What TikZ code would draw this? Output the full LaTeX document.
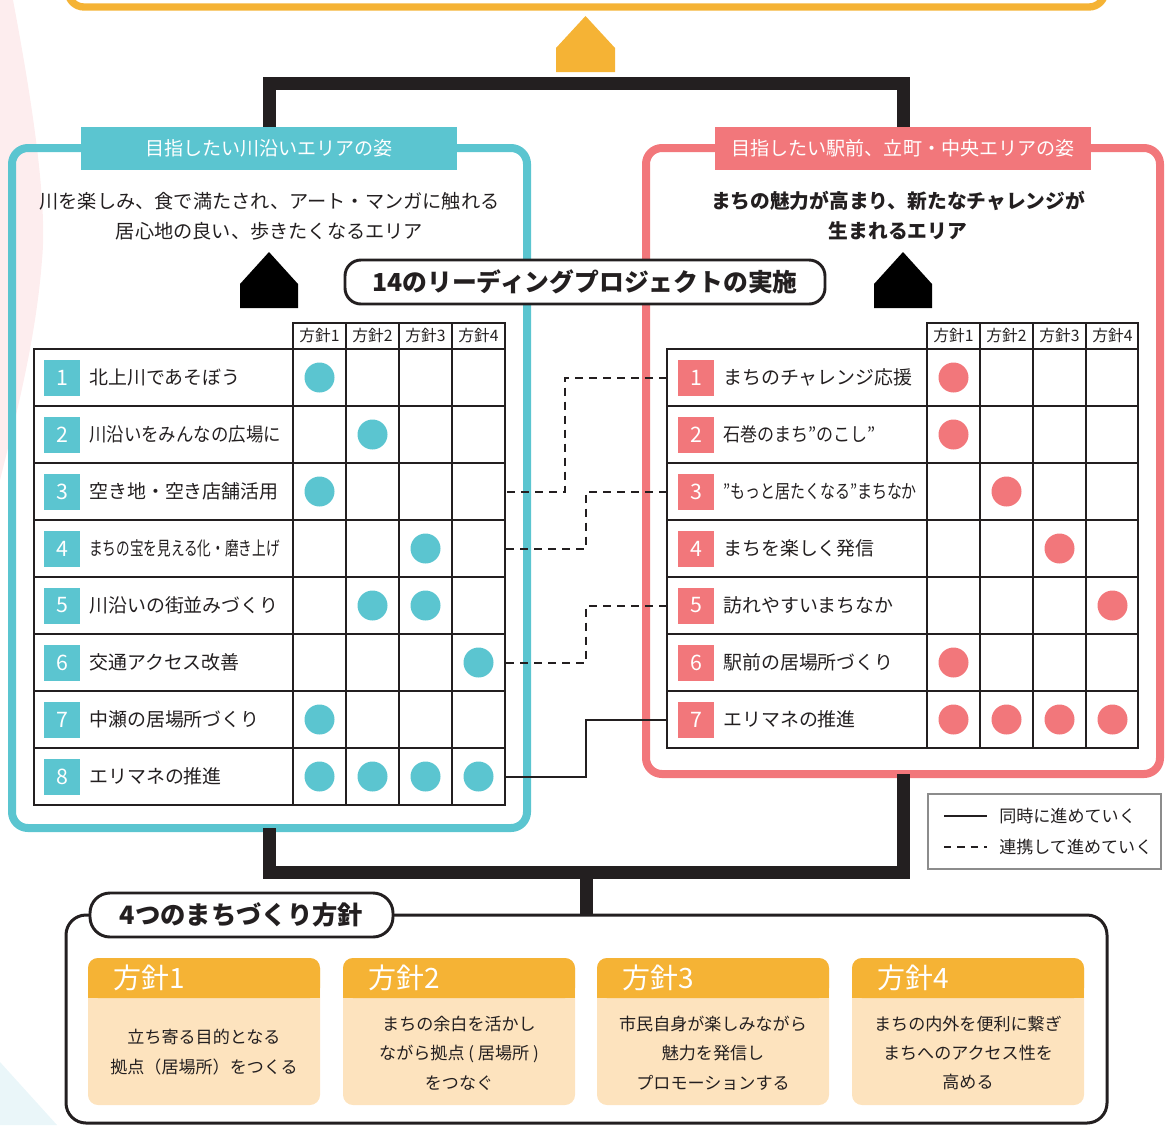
\documentclass[tikz,border=0pt]{standalone}
\usepackage{fontspec}
\setmainfont{Noto Sans CJK JP}
\usetikzlibrary{calc}
\definecolor{cy}{HTML}{5BC5D0}
\definecolor{pk}{HTML}{F2777B}
\definecolor{og}{HTML}{F5B335}
\definecolor{log}{HTML}{FDE3BE}
\definecolor{ink}{HTML}{231F20}
\definecolor{blobpink}{HTML}{FDEDEE}
\definecolor{blobblue}{HTML}{EAF6F9}
\definecolor{lgray}{HTML}{8C8C8C}
\newcommand{\myfs}[1]{\fontsize{#1}{#1}\selectfont}
\begin{document}
\begin{tikzpicture}[x=0.75pt,y=-0.75pt,
  tbl/.style={line width=1.9pt, draw=ink},
  numbox/.style={fill=#1, text=white, minimum width=27pt, minimum height=27pt, inner sep=0pt, font=\myfs{16}},
  itemtxt/.style={anchor=west, inner sep=0pt, font=\myfs{14.2}, text=ink},
  rowbox/.style={minimum width=353.25pt, minimum height=42.75pt, inner sep=0pt},
  hdr/.style={inner sep=0pt, font=\myfs{11.8}, text=ink},
  tabnode/.style={fill=#1, text=white, inner sep=0pt, minimum height=32.25pt, font=\myfs{14.3}},
  panel/.style={draw=#1, line width=6pt, rounded corners=12pt, outer sep=0pt, inner sep=0pt},
  bracket/.style={draw=ink, line width=9.75pt, line join=miter, line cap=butt},
  conn/.style={draw=ink, line width=1.5pt},
  dconn/.style={conn, dash pattern=on 6pt off 4.5pt},
  pill/.style={draw=ink, fill=white, line width=2.2pt, inner sep=0pt, text=ink},
  cardhead/.style={anchor=west, inner sep=0pt, text=white, font=\myfs{21}},
  cardbody/.style={align=center, inner sep=0pt, text=ink, font=\fontsize{12.8}{22}\selectfont},
  legtxt/.style={anchor=west, inner sep=0pt, text=ink, font=\myfs{12.8}}
]
\useasboundingbox (0,0) rectangle (1166,1125);
% background decorations
\fill[blobpink] (0,0) -- (13,0) .. controls (30,90) and (48,200) .. (42,260) .. controls (36,340) and (15,420) .. (0,480) -- cycle;
\fill[blobblue] (0,1062) -- (57,1125) -- (0,1125) -- cycle;

% top orange goal box (partly visible) and arrow
\draw[og, line width=5.5pt, rounded corners=12pt] (68,-80) -- (68,7) -- (1105,7) -- (1105,-80);
\fill[og] (556,72) -- (556,48) -- (585.5,16) -- (615,48) -- (615,72) -- cycle;

% panels
\node[panel=cy, minimum width=386.25pt, minimum height=510pt] (lpanel) at (269.5,488) {};
\node[panel=pk, minimum width=385.5pt, minimum height=469.5pt] (rpanel) at (903,461) {};

% tabs
\node[tabnode=cy, minimum width=282pt] (ltab) at (269,148.5) {目指したい川沿いエリアの姿};
\node[tabnode=pk, minimum width=282pt] (rtab) at (903,148.5) {目指したい駅前、立町・中央エリアの姿};

% top bracket
\draw[bracket] (ltab.north) -- ++(0,-43) -| (rtab.north);

% subtitles
\node[align=center, inner sep=0pt, text=ink, font=\fontsize{14.4}{22.5}\selectfont] (lsub) at (269.5,216) {川を楽しみ、食で満たされ、アート・マンガに触れる\\居心地の良い、歩きたくなるエリア};
\node[align=center, inner sep=0pt, text=ink, font=\fontsize{14.8}{22.5}\selectfont\bfseries] (rsub) at (898,216) {まちの魅力が高まり、新たなチャレンジが\\生まれるエリア};

% black houses
\fill[black] (240,308) -- (240,284) -- (269,252) -- (298,284) -- (298,308) -- cycle;
\fill[black] (874,308) -- (874,284) -- (903,252) -- (932,284) -- (932,308) -- cycle;

% lead pill
\node[pill, rounded corners=12pt, minimum width=360pt, minimum height=33pt, font=\myfs{18.6}\bfseries] (lead) at (585,282) {14のリーディングプロジェクトの実施};

% left table
\draw[tbl] (34,349) rectangle (505,805);
\foreach \k in {1,...,7} \draw[tbl] (34,{349+57*\k}) -- (505,{349+57*\k});
\foreach \xx in {293,346,399,452} \draw[tbl] (\xx,323) -- (\xx,805);
\draw[tbl] (293,323) rectangle (505,349);
\foreach \c in {1,...,4} \node[hdr] (Lh\c) at ({319.5+53*(\c-1)},336) {方針\c};
\foreach \i/\t in {1/{北上川であそぼう},2/{\scalebox{0.92}[1]{川沿いをみんなの広場に}},3/{空き地・空き店舗活用},4/{\scalebox{0.72}[1]{まちの宝を見える化・磨き上げ}},5/{川沿いの街並みづくり},6/{交通アクセス改善},7/{中瀬の居場所づくり},8/{エリマネの推進}} {
  \node[rowbox] (L\i) at (269.5,{320.5+57*\i}) {};
  \node[numbox=cy] (Ln\i) at (62,{320.5+57*\i}) {\i};
  \node[itemtxt] (Lt\i) at (89,{320.5+57*\i}) {\t};
}
\foreach \r/\c in {1/1,2/2,3/1,4/3,5/2,5/3,6/4,7/1,8/1,8/2,8/3,8/4}
  \fill[cy] ({319.5+53*(\c-1)},{320.5+57*\r}) circle[radius=15];

% right table
\draw[tbl] (667,349) rectangle (1138,748);
\foreach \k in {1,...,6} \draw[tbl] (667,{349+57*\k}) -- (1138,{349+57*\k});
\foreach \xx in {927,980,1033,1086} \draw[tbl] (\xx,323) -- (\xx,748);
\draw[tbl] (927,323) rectangle (1138,349);
\foreach \c in {1,...,4} \node[hdr] (Rh\c) at ({953.5+53*(\c-1)},336) {方針\c};
\foreach \i/\t in {1/{まちのチャレンジ応援},2/{\scalebox{0.9}[1]{石巻のまち”のこし”}},3/{\scalebox{0.79}[1]{”もっと居たくなる”まちなか}},4/{まちを楽しく発信},5/{訪れやすいまちなか},6/{駅前の居場所づくり},7/{エリマネの推進}} {
  \node[rowbox] (R\i) at (902.5,{320.5+57*\i}) {};
  \node[numbox=pk] (Rn\i) at (696,{320.5+57*\i}) {\i};
  \node[itemtxt] (Rt\i) at (723,{320.5+57*\i}) {\t};
}
\foreach \r/\c in {1/1,2/1,3/2,4/3,5/4,6/1,7/1,7/2,7/3,7/4}
  \fill[pk] ({953.5+53*(\c-1)},{320.5+57*\r}) circle[radius=15];

% connectors
\draw[dconn] (R1.west) -- ++(-102,0) |- (L3.east);
\draw[dconn] (R3.west) -- ++(-81,0) |- (L4.east);
\draw[dconn] (R5.west) -- ++(-81,0) |- (L6.east);
\draw[conn] (R7.west) -- ++(-81,0) |- (L8.east);

% legend
\node[draw=lgray, line width=1.1pt, minimum width=174.75pt, minimum height=56.25pt, inner sep=0pt] (legend) at (1044.5,831.5) {};
\coordinate (ls1) at (944,816);
\coordinate (le1) at (987,816);
\coordinate (ls2) at (944,847);
\coordinate (le2) at (987,847);
\draw[ink, line width=1.9pt] (ls1) -- (le1);
\draw[ink, line width=1.9pt, dash pattern=on 5.5pt off 4.5pt] (ls2) -- (le2);
\node[legtxt] (lt1) at (999,816) {同時に進めていく};
\node[legtxt] (lt2) at (999,847) {連携して進めていく};

% bottom box
\node[draw=ink, line width=2.25pt, rounded corners=15pt, outer sep=0pt, inner sep=0pt, minimum width=780.75pt, minimum height=156pt] (bbox) at (586.5,1019) {};
\draw[bracket] (lpanel.south) -- ++(0,44) -| (rpanel.south);
\draw[bracket] (bbox.north) -- ++(0,-43);
\node[pill, rounded corners=15pt, minimum width=227.25pt, minimum height=33pt, font=\myfs{19}\bfseries] (ptitle) at (241.5,915) {4つのまちづくり方針};

% cards
\foreach \xl in {88,343,597,852} {
  \fill[log, rounded corners=7.5pt] (\xl,958) rectangle ({\xl+232},1105);
  \fill[og, rounded corners=7.5pt] (\xl,958) rectangle ({\xl+232},998);
  \fill[og] (\xl,980) rectangle ({\xl+232},998);
}
\node[cardhead] (c1h) at (113,978) {方針1};
\node[cardhead] (c2h) at (368,978) {方針2};
\node[cardhead] (c3h) at (622,978) {方針3};
\node[cardhead] (c4h) at (877,978) {方針4};
\node[cardbody] (c1b) at (204,1052) {立ち寄る目的となる\\拠点（居場所）をつくる};
\node[cardbody] (c2b) at (459,1053) {まちの余白を活かし\\ながら拠点 ( 居場所 )\\をつなぐ};
\node[cardbody] (c3b) at (713,1053) {市民自身が楽しみながら\\魅力を発信し\\プロモーションする};
\node[cardbody] (c4b) at (968,1053) {まちの内外を便利に繋ぎ\\まちへのアクセス性を\\高める};
\end{tikzpicture}
\end{document}
